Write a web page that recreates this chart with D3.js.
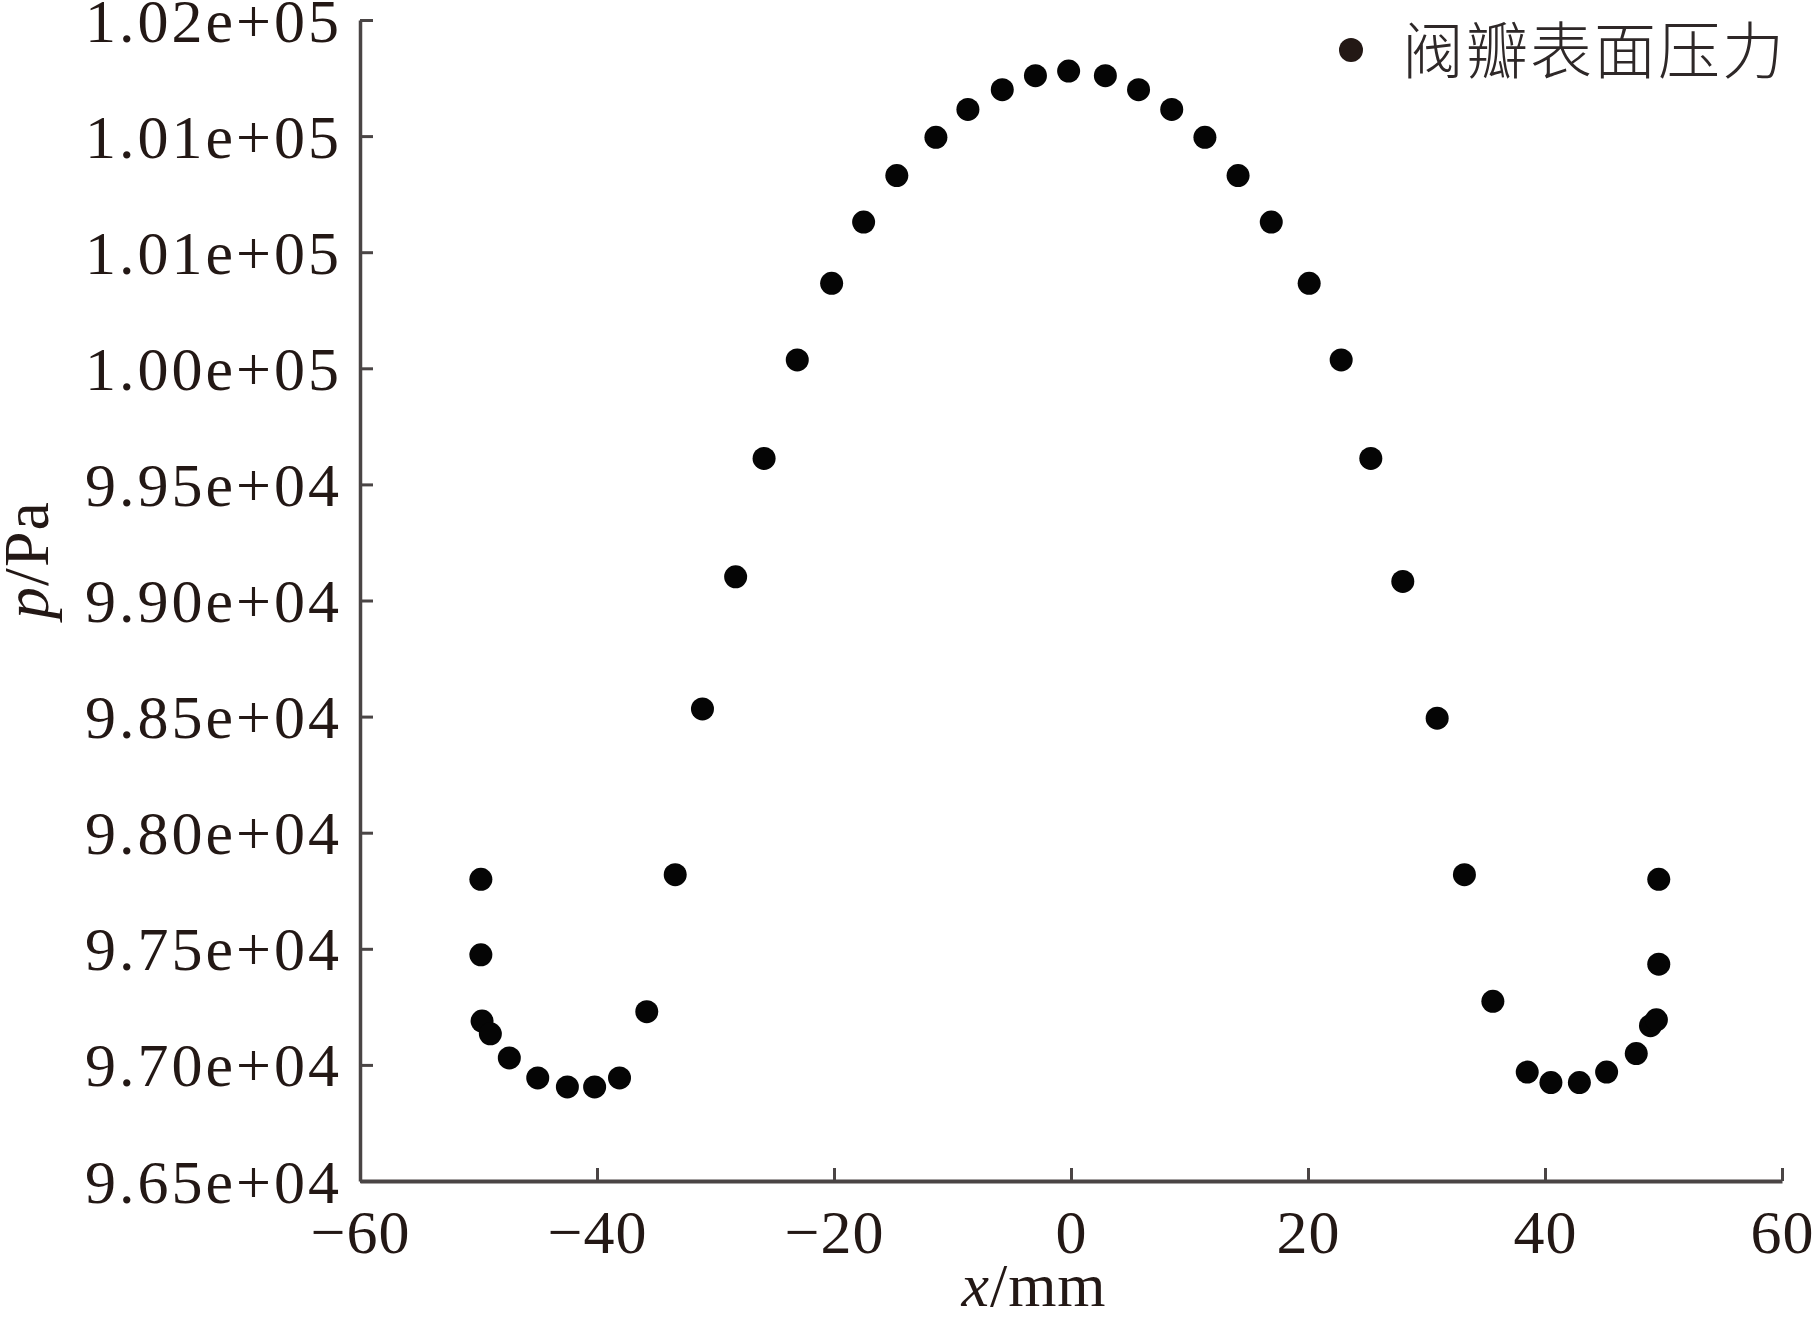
<!DOCTYPE html>
<html>
<head>
<meta charset="utf-8">
<script src="https://cdn.jsdelivr.net/npm/d3@7"></script>
<style>
  html, body { margin: 0; padding: 0; background: #fff; }
  svg { display: block; }
</style>
</head>
<body>
<svg id="chart" width="1818" height="1317"></svg>
<script>
// ---- Data ----
const seriesName = "阀瓣表面压力";
const xValues = [
  -49.8, -49.8, -49.7, -49.0, -47.4, -45.0, -42.5, -40.2, -38.1, -35.8,
  -33.4, -31.1, -28.3, -25.9, -23.1, -20.2, -17.5, -14.7, -11.4, -8.7,
  -5.8, -3.0, -0.2, 2.9, 5.7, 8.5, 11.3, 14.1, 16.9, 20.1,
  22.8, 25.3, 28.0, 30.9, 33.2, 35.6, 38.5, 40.5, 42.9, 45.2,
  47.7, 48.9, 49.4, 49.6, 49.6
];
const pValues = [
  97799, 97474, 97189, 97134, 97030, 96944, 96905, 96905, 96944, 97229,
  97819, 98533, 99102, 99612, 100036, 100366, 100630, 100830, 100995, 101115,
  101200, 101260, 101280, 101260, 101200, 101115, 100995, 100830, 100630, 100366,
  100036, 99612, 99082, 98493, 97819, 97274, 96969, 96924, 96924, 96969,
  97049, 97169, 97194, 97434, 97799
];
const xTicks = [-60, -40, -20, 0, 20, 40, 60];
const yTicks = [96500, 97000, 97500, 98000, 98500, 99000, 99500, 100000, 100500, 101000, 101500];
const yTickLabels = ["9.65e+04", "9.70e+04", "9.75e+04", "9.80e+04", "9.85e+04", "9.90e+04",
                     "9.95e+04", "1.00e+05", "1.01e+05", "1.01e+05", "1.02e+05"];

// ---- Layout ----
const M = { left: 360, right: 1782, top: 20, bottom: 1181 };
const axisColor = "#4a4545";
const textColor = "#231815";
const numFont = "'Liberation Serif', 'Times New Roman', serif";

const svg = d3.select("#chart");

const x = d3.scaleLinear().domain([-60, 60]).range([M.left, M.right]);
const y = d3.scaleLinear().domain([96500, 101500]).range([M.bottom, M.top]);

// X axis
const xAxis = d3.axisBottom(x)
  .tickValues(xTicks)
  .tickSizeInner(-13)
  .tickSizeOuter(0)
  .tickPadding(28)
  .tickFormat(d => d < 0 ? "\u2212" + Math.abs(d) : String(d));

const gx = svg.append("g").attr("transform", `translate(0,${M.bottom})`).call(xAxis);
gx.select(".domain").attr("stroke", axisColor).attr("stroke-width", 4);
gx.selectAll(".tick line").attr("stroke", axisColor).attr("stroke-width", 3);
gx.selectAll(".tick text")
  .attr("fill", textColor)
  .attr("font-family", numFont)
  .attr("font-size", 62)
  .attr("letter-spacing", 1)
  .attr("dy", "0.71em");

// Y axis
const yAxis = d3.axisLeft(y)
  .tickValues(yTicks)
  .tickSizeInner(-13)
  .tickSizeOuter(0)
  .tickPadding(18)
  .tickFormat((d, i) => yTickLabels[i]);

const gy = svg.append("g").attr("transform", `translate(${M.left},0)`).call(yAxis);
gy.select(".domain").attr("stroke", axisColor).attr("stroke-width", 3.5);
gy.selectAll(".tick line").attr("stroke", axisColor).attr("stroke-width", 3);
gy.selectAll(".tick text")
  .attr("fill", textColor)
  .attr("font-family", numFont)
  .attr("font-size", 62)
  .attr("letter-spacing", 3)
  .attr("dy", "0.34em");

// Axis titles
const xt = svg.append("text")
  .attr("x", 1034).attr("y", 1306)
  .attr("text-anchor", "middle")
  .attr("fill", textColor)
  .attr("font-family", numFont)
  .attr("font-size", 62)
  .attr("letter-spacing", 1);
xt.append("tspan").attr("font-style", "italic").text("x");
xt.append("tspan").text("/mm");

const yt = svg.append("text")
  .attr("transform", "translate(48,560) rotate(-90)")
  .attr("text-anchor", "middle")
  .attr("fill", textColor)
  .attr("font-family", numFont)
  .attr("font-size", 64)
  .attr("letter-spacing", 1);
yt.append("tspan").attr("font-style", "italic").text("p");
yt.append("tspan").text("/Pa");

// Points
const pts = xValues.map((v, i) => ({ x: v, p: pValues[i] }));
svg.append("g")
  .selectAll("circle")
  .data(pts)
  .join("circle")
  .attr("cx", d => x(d.x))
  .attr("cy", d => y(d.p))
  .attr("r", 11.5)
  .attr("fill", "#050505");

// Legend
const lg = svg.append("g");
lg.append("circle").attr("cx", 1351).attr("cy", 50).attr("r", 12).attr("fill", "#231815");
lg.append("text")
  .attr("x", 1402).attr("y", 74)
  .attr("fill", "#2e2828")
  .attr("font-family", "'Noto Sans CJK SC', sans-serif")
  .attr("font-weight", 300)
  .attr("font-size", 62)
  .attr("letter-spacing", 2)
  .text(seriesName);
</script>
</body>
</html>
